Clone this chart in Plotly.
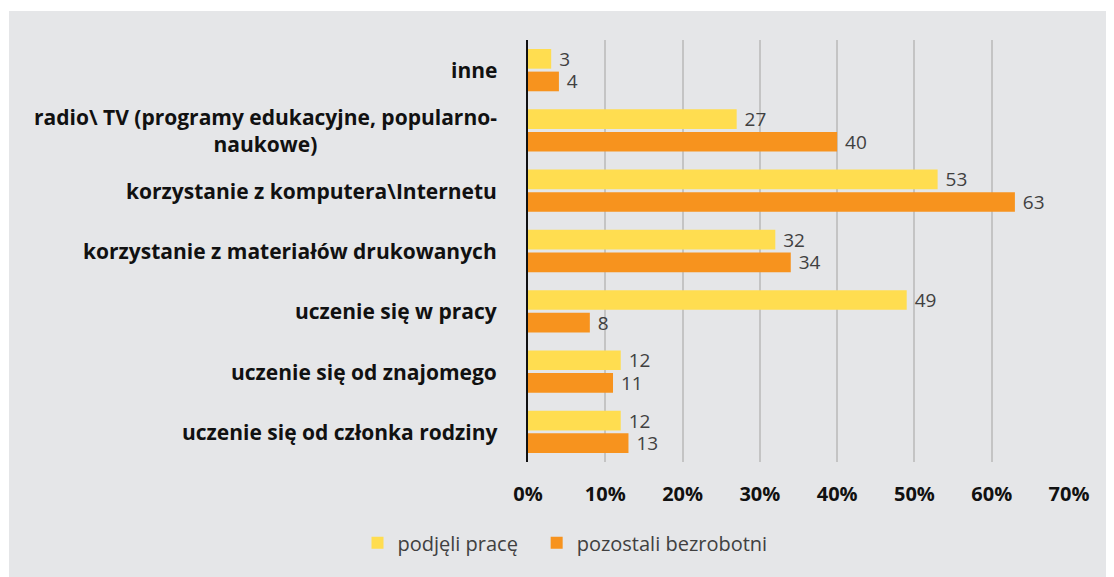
import plotly.graph_objects as go

# categories, top to bottom as shown in the chart
categories = [
    "inne",
    "radio\\ TV (programy edukacyjne, popularno-<br>naukowe)",
    "korzystanie z komputera\\Internetu",
    "korzystanie z materiałów drukowanych",
    "uczenie się w pracy",
    "uczenie się od znajomego",
    "uczenie się od członka rodziny",
]
podjeli_prace = [3, 27, 53, 32, 49, 12, 12]
pozostali_bezrobotni = [4, 40, 63, 34, 8, 11, 13]
x_ticks = [0, 10, 20, 30, 40, 50, 60, 70]
x_tick_labels = [f"{v}%" for v in x_ticks]

YELLOW = "#FFDD50"
ORANGE = "#F7931E"
TEXT = "#404040"
BG = "#E5E6E8"

# plotly draws the first category at the bottom
cats = categories[::-1]

fig = go.Figure()
fig.add_trace(go.Bar(
    y=cats, x=pozostali_bezrobotni[::-1], orientation="h",
    name="pozostali bezrobotni", marker_color=ORANGE, marker_line_width=0,
    text=pozostali_bezrobotni[::-1], texttemplate=" %{text}", textposition="outside",
    constraintext="none", textfont=dict(size=19, color=TEXT),
    cliponaxis=False, legend="legend2",
))
fig.add_trace(go.Bar(
    y=cats, x=podjeli_prace[::-1], orientation="h",
    name="podjęli pracę", marker_color=YELLOW, marker_line_width=0,
    text=podjeli_prace[::-1], texttemplate=" %{text}", textposition="outside",
    constraintext="none", textfont=dict(size=19, color=TEXT),
    cliponaxis=False, legend="legend",
))

# category labels as annotations so the wrapped label is centred line by line
for cat in cats:
    fig.add_annotation(
        x=0, xref="paper", xshift=-29, y=cat, yref="y",
        text=f"<b>{cat}</b>", showarrow=False, xanchor="right", align="center",
        font=dict(size=21, color="#111111"),
    )

# grey panel with a thin white border at top and left
# (page body adds 8px offset, so the figure is 1106x569 placed at 8,8)
fig.add_shape(
    type="rect", xref="paper", yref="paper", layer="below",
    x0=(1 - 520) / 541, x1=(1106 - 520) / 541,
    y0=(454 - 575) / 422, y1=(454 - 3) / 422,
    fillcolor=BG, line_width=0,
)

legend_style = dict(
    orientation="h", xref="container", yref="container",
    y=0.06, xanchor="left", yanchor="middle",
    font=dict(size=20, color=TEXT), bgcolor="rgba(0,0,0,0)", itemwidth=30,
)

fig.update_layout(
    width=1106, height=569,
    margin=dict(l=520, r=45, t=32, b=115),
    paper_bgcolor="white", plot_bgcolor="rgba(0,0,0,0)",
    barmode="group", bargap=0.25, bargroupgap=0.13,
    font=dict(family="Open Sans, Noto Sans, sans-serif", color=TEXT),
    showlegend=True,
    legend=dict(x=0.316, **legend_style),
    legend2=dict(x=0.478, **legend_style),
    xaxis=dict(
        range=[0, 70], tickvals=x_ticks, ticktext=x_tick_labels,
        showgrid=True, gridcolor="#C4C4C4", gridwidth=1.5,
        zeroline=False, showline=False, ticks="",
        tickfont=dict(size=20, color="#111111", weight="bold"),
        ticklabelstandoff=18,
    ),
    yaxis=dict(
        showticklabels=False, showgrid=False, zeroline=False,
        showline=True, linecolor="#111111", linewidth=2, ticks="",
    ),
)

fig.write_html("out.html")
